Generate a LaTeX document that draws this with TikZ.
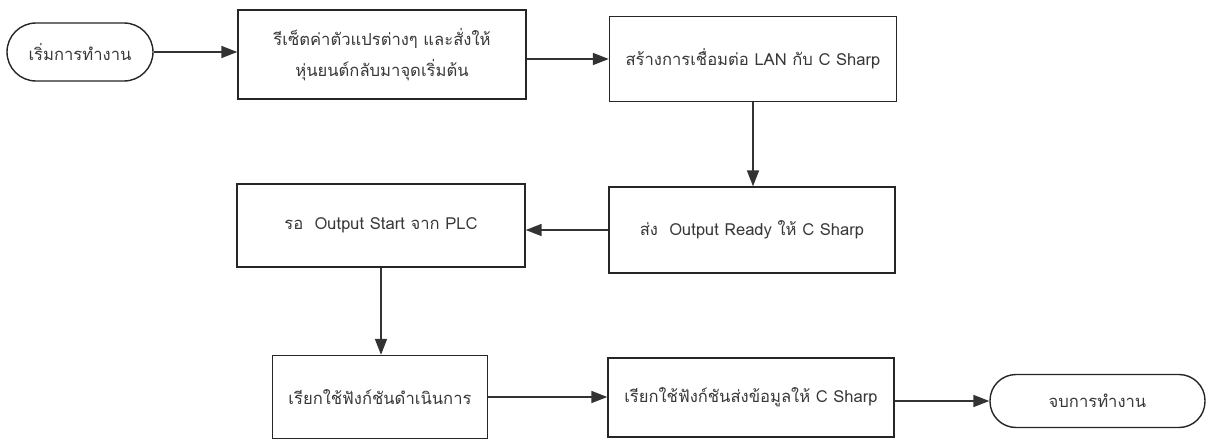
\documentclass[tikz,border=0pt]{standalone}
\usepackage{fontspec}
\setmainfont[Script=Thai]{Loma}
\usetikzlibrary{arrows.meta}
\begin{document}
\begin{tikzpicture}[x=1pt,y=-1pt,
  every node/.style={font=\fontsize{16.6}{31}\selectfont, text=black!78, inner sep=0pt},
  stepbox/.style={draw=black!85, line width=1.4pt, rectangle, align=center},
  termbox/.style={draw=black!85, line width=1.4pt, rectangle, rounded corners=26pt, align=center},
  arr/.style={draw=black!80, line width=1.7pt, -{Triangle[length=16pt,width=12pt]}}]
\useasboundingbox[fill=white] (0,0) rectangle (1211,439);
\node[termbox, minimum width=146pt, minimum height=58pt, rounded corners=29pt] (start) at (80,52) {เริ่มการทำงาน};
\node[stepbox, minimum width=288pt, minimum height=89pt] (b1) at (382,54.5) {รีเซ็ตค่าตัวแปรต่างๆ และสั่งให้\\หุ่นยนต์กลับมาจุดเริ่มต้น};
\node[stepbox, minimum width=287pt, minimum height=85pt] (b2) at (753,59) {สร้างการเชื่อมต่อ LAN กับ C Sharp};
\node[stepbox, minimum width=286pt, minimum height=86pt] (b3) at (752,230) {ส่ง\ \ Output Ready ให้ C Sharp};
\node[stepbox, minimum width=288pt, minimum height=83pt] (b4) at (381,225.5) {รอ\ \ Output Start จาก PLC};
\node[stepbox, minimum width=215pt, minimum height=83pt] (b5) at (380,397) {เรียกใช้ฟังก์ชันดำเนินการ};
\node[stepbox, minimum width=286pt, minimum height=79pt] (b6) at (751,397.5) {เรียกใช้ฟังก์ชันส่งข้อมูลให้ C Sharp};
\node[termbox, minimum width=215pt, minimum height=53pt] (end) at (1097.5,401) {จบการทำงาน};
\draw[arr] (start) -- (start -| b1.west);
\draw[arr] (b1.east |- b2.west) -- (b2.west);
\draw[arr] (b2.south) -- (b2.south |- b3.north);
\draw[arr] (b3.west) -- (b3.west -| b4.east);
\draw[arr] (b4.south) -- (b4.south |- b5.north);
\draw[arr] (b5.east) -- (b5.east -| b6.west);
\draw[arr] (b6.east |- end.west) -- (end.west);
\end{tikzpicture}
\end{document}
